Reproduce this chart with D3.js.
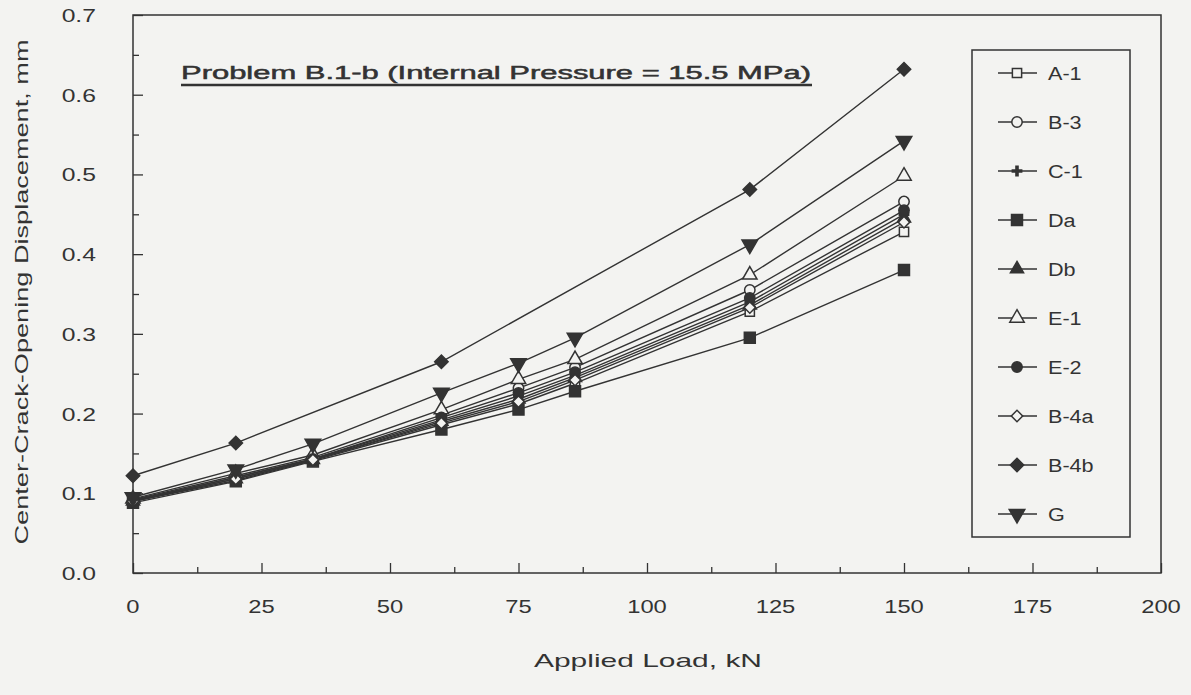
<!DOCTYPE html>
<html>
<head>
<meta charset="utf-8">
<script src="https://cdn.jsdelivr.net/npm/d3@7"></script>
<style>
  body { margin: 0; background: #f3f3f1; }
  svg { display: block; font-family: "Liberation Sans", Arial, sans-serif; }
</style>
</head>
<body>
<script>
// load steps, kN
var loads = [0, 20, 35, 60, 75, 86, 120, 150];
var loadsB4b = [0, 20, 60, 120, 150];

// series names in legend order
var names = ["A-1", "B-3", "C-1", "Da", "Db", "E-1", "E-2", "B-4a", "B-4b", "G"];

// crack opening displacement, mm
var a1 = [0.090, 0.116, 0.141, 0.186, 0.212, 0.238, 0.328, 0.428];
var b3 = [0.092, 0.122, 0.145, 0.198, 0.232, 0.258, 0.355, 0.466];
var c1 = [0.091, 0.120, 0.143, 0.192, 0.222, 0.248, 0.340, 0.450];
var da = [0.088, 0.115, 0.140, 0.180, 0.205, 0.228, 0.295, 0.380];
var db = [0.090, 0.118, 0.142, 0.190, 0.218, 0.245, 0.336, 0.445];
var e1 = [0.093, 0.125, 0.148, 0.205, 0.243, 0.268, 0.374, 0.498];
var e2 = [0.091, 0.120, 0.143, 0.195, 0.226, 0.252, 0.345, 0.455];
var b4a = [0.090, 0.118, 0.142, 0.188, 0.215, 0.242, 0.333, 0.440];
var b4b = [0.122, 0.163, 0.265, 0.481, 0.632];
var g = [0.095, 0.130, 0.162, 0.226, 0.263, 0.295, 0.412, 0.542];

var xTicks = [0, 25, 50, 75, 100, 125, 150, 175, 200];
var yTicks = [0, 0.1, 0.2, 0.3, 0.4, 0.5, 0.6, 0.7];

function main() {
  var width = 1191, height = 695;
  var ink = "#333";
  var bg = "#f3f3f1";
  var svg = d3.select("body").append("svg")
    .attr("width", width).attr("height", height);

  var x = d3.scaleLinear().domain([0, 200]).range([133, 1161]);
  var y = d3.scaleLinear().domain([0, 0.7]).range([573, 15]);

  var series = [
    { name: names[0], xs: loads, ys: a1, sym: d3.symbolSquare, fill: false, size: 85 },
    { name: names[1], xs: loads, ys: b3, sym: d3.symbolCircle, fill: false, size: 85 },
    { name: names[2], xs: loads, ys: c1, sym: d3.symbolCross, fill: true, size: 65, plus: true },
    { name: names[3], xs: loads, ys: da, sym: d3.symbolSquare, fill: true, size: 120 },
    { name: names[4], xs: loads, ys: db, sym: d3.symbolTriangle, fill: true, size: 75 },
    { name: names[5], xs: loads, ys: e1, sym: d3.symbolTriangle, fill: false, size: 90 },
    { name: names[6], xs: loads, ys: e2, sym: d3.symbolCircle, fill: true, size: 85 },
    { name: names[7], xs: loads, ys: b4a, sym: d3.symbolSquare, fill: false, size: 65, rot: 45 },
    { name: names[8], xs: loadsB4b, ys: b4b, sym: d3.symbolSquare, fill: true, size: 90, rot: 45 },
    { name: names[9], xs: loads, ys: g, sym: d3.symbolTriangle, fill: true, size: 105, rot: 180 }
  ];

  // widen text to mimic the scanned typeface
  function widen(sel, k) {
    sel.each(function () {
      var w = this.getComputedTextLength();
      d3.select(this).attr("textLength", w * k).attr("lengthAdjust", "spacingAndGlyphs");
    });
  }

  // plot frame
  svg.append("rect")
    .attr("x", x(0)).attr("y", y(0.7))
    .attr("width", x(200) - x(0)).attr("height", y(0) - y(0.7))
    .attr("fill", "none").attr("stroke", ink).attr("stroke-width", 1.5);

  // axes with inward ticks
  var xAxis = svg.append("g").attr("transform", "translate(0," + y(0) + ")")
    .call(d3.axisBottom(x).tickValues(d3.range(0, 201, 12.5)).tickSize(-10).tickFormat(""));
  xAxis.selectAll(".tick line").attr("y2", function (d) { return d % 25 === 0 ? -10 : -6; });
  xAxis.select(".domain").remove();
  xAxis.selectAll("line").attr("stroke", ink).attr("stroke-width", 1.3);

  var yAxis = svg.append("g").attr("transform", "translate(" + x(0) + ",0)")
    .call(d3.axisLeft(y).tickValues(d3.range(0, 0.71, 0.05)).tickSize(-10).tickFormat(""));
  yAxis.selectAll(".tick line").attr("x2", function (d, i) { return i % 2 === 0 ? 10 : 6; });
  yAxis.select(".domain").remove();
  yAxis.selectAll("line").attr("stroke", ink).attr("stroke-width", 1.3);

  // tick labels
  svg.selectAll(".xl").data(xTicks).enter().append("text")
    .attr("x", function (d) { return x(d); }).attr("y", 613)
    .attr("text-anchor", "middle").attr("font-size", 19).attr("fill", ink)
    .text(function (d) { return d; })
    .call(widen, 1.25);
  svg.selectAll(".yl").data(yTicks).enter().append("text")
    .attr("x", 96).attr("y", function (d) { return y(d) + 7; })
    .attr("text-anchor", "end").attr("font-size", 19).attr("fill", ink)
    .text(function (d) { return d3.format(".1f")(d); })
    .call(widen, 1.3);

  // axis titles
  svg.append("text").attr("x", 648).attr("y", 667)
    .attr("text-anchor", "middle").attr("font-size", 19).attr("fill", ink)
    .attr("textLength", 228).attr("lengthAdjust", "spacingAndGlyphs")
    .text("Applied Load, kN");
  svg.append("text").attr("transform", "translate(28,292) rotate(-90)")
    .attr("text-anchor", "middle").attr("font-size", 18).attr("fill", ink)
    .attr("textLength", 505).attr("lengthAdjust", "spacingAndGlyphs")
    .text("Center-Crack-Opening Displacement, mm");

  // title
  svg.append("text").attr("x", 181).attr("y", 79)
    .attr("font-size", 18).attr("fill", ink)
    .attr("stroke", ink).attr("stroke-width", 0.5)
    .attr("textLength", 630).attr("lengthAdjust", "spacingAndGlyphs")
    .text("Problem B.1-b (Internal Pressure = 15.5 MPa)");
  svg.append("line").attr("x1", 181).attr("x2", 812).attr("y1", 85).attr("y2", 85)
    .attr("stroke", ink).attr("stroke-width", 2.5);

  var line = d3.line();

  function drawMarker(sel, s) {
    sel.append("path")
      .attr("d", d3.symbol().type(s.sym).size(s.size)())
      .attr("fill", s.plus ? ink : (s.fill ? ink : bg))
      .attr("stroke", ink).attr("stroke-width", s.plus ? 0 : 1.5);
  }

  // lines and markers
  series.forEach(function (s) {
    var pts = s.xs.map(function (d, i) { return [x(d), y(s.ys[i])]; });
    svg.append("path").attr("d", line(pts))
      .attr("fill", "none").attr("stroke", ink).attr("stroke-width", 1.4);
  });
  series.forEach(function (s) {
    s.xs.forEach(function (d, i) {
      var gm = svg.append("g")
        .attr("transform", "translate(" + x(d) + "," + y(s.ys[i]) + ")" + (s.rot ? " rotate(" + s.rot + ")" : ""));
      drawMarker(gm, s);
    });
  });

  // legend
  svg.append("rect").attr("x", 972).attr("y", 50).attr("width", 158).attr("height", 487)
    .attr("fill", bg).attr("stroke", ink).attr("stroke-width", 1.5);
  series.forEach(function (s, i) {
    var ly = 73 + i * 49;
    svg.append("line").attr("x1", 998).attr("x2", 1037).attr("y1", ly).attr("y2", ly)
      .attr("stroke", ink).attr("stroke-width", 1.4);
    var gm = svg.append("g")
      .attr("transform", "translate(1017," + ly + ")" + (s.rot ? " rotate(" + s.rot + ")" : ""));
    drawMarker(gm, s);
    svg.append("text").attr("x", 1048).attr("y", ly + 7)
      .attr("font-size", 18).attr("fill", ink).text(s.name)
      .call(widen, 1.2);
  });
}
document.addEventListener("DOMContentLoaded", main);
</script>
</body>
</html>
